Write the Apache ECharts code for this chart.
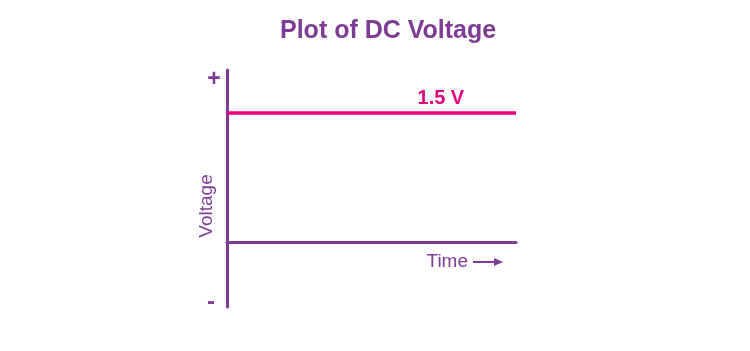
<!DOCTYPE html>
<html><head><meta charset="utf-8">
<script src="https://cdn.jsdelivr.net/npm/echarts@6/dist/echarts.min.js"></script>
<style>html,body{margin:0;padding:0;background:#fff}#c{width:750px;height:351px}</style>
</head><body><div id="c"></div>
<script>
const titleText = 'Plot of DC Voltage';
const timeValues = [0, 7.4, 10];
const voltageValues = [1.5, 1.5, 1.5];
const lineLabel = '1.5 V';
const yAxisName = 'Voltage';
const xAxisName = 'Time';
const plusLabel = '+';
const minusLabel = '-';

const purple = '#7f3a96';
const magenta = '#e6007e';
const font = 'Liberation Sans, Arial, sans-serif';

const chart = echarts.init(document.getElementById('c'), null, {renderer: 'canvas'});
chart.setOption({
  animation: false,
  backgroundColor: '#fff',
  title: {
    text: titleText, left: 275, top: 14,
    textStyle: {color: purple, fontSize: 25, fontWeight: 'bold', fontFamily: font}
  },
  grid: {left: 227, right: 234, top: 70, bottom: 44, containLabel: false},
  xAxis: {
    type: 'value', min: 0, max: 10,
    axisLine: {show: true, onZero: true, lineStyle: {color: purple, width: 3}},
    axisTick: {show: false}, axisLabel: {show: false}, splitLine: {show: false}
  },
  yAxis: {
    type: 'value', min: -0.75, max: 2,
    axisLine: {show: true, onZero: false, lineStyle: {color: purple, width: 3}},
    axisTick: {show: false}, axisLabel: {show: false}, splitLine: {show: false}
  },
  series: [{
    type: 'line',
    data: timeValues.map((t, i) => ({
      value: [t, voltageValues[i]],
      label: {show: i === 1, formatter: lineLabel, position: 'top', distance: 5,
        color: magenta, fontSize: 20, fontWeight: 'bold', fontFamily: font}
    })),
    symbol: 'circle',
    symbolSize: 0,
    showSymbol: true,
    showAllSymbol: true,
    lineStyle: {color: magenta, width: 3.5},
    itemStyle: {color: magenta},
    z: 3
  }],
  graphic: [
    {type: 'text', x: 207, y: 206, rotation: Math.PI / 2,
      style: {text: yAxisName, fill: purple, fontSize: 19, fontFamily: font, textAlign: 'center', textVerticalAlign: 'middle'}},
    {type: 'text', x: 214, y: 80,
      style: {text: plusLabel, fill: purple, fontSize: 23, fontWeight: 'bold', fontFamily: font, textAlign: 'center', textVerticalAlign: 'middle'}},
    {type: 'text', x: 211, y: 302,
      style: {text: minusLabel, fill: purple, fontSize: 24, fontWeight: 'bold', fontFamily: font, textAlign: 'center', textVerticalAlign: 'middle'}},
    {type: 'text', x: 468, y: 262,
      style: {text: xAxisName, fill: purple, fontSize: 19, fontFamily: font, textAlign: 'right', textVerticalAlign: 'middle'}},
    {type: 'line', shape: {x1: 473, y1: 262, x2: 496, y2: 262},
      style: {stroke: purple, lineWidth: 2}},
    {type: 'polygon', shape: {points: [[494, 258], [503, 262], [494, 266]]},
      style: {fill: purple}}
  ]
});
</script></body></html>
